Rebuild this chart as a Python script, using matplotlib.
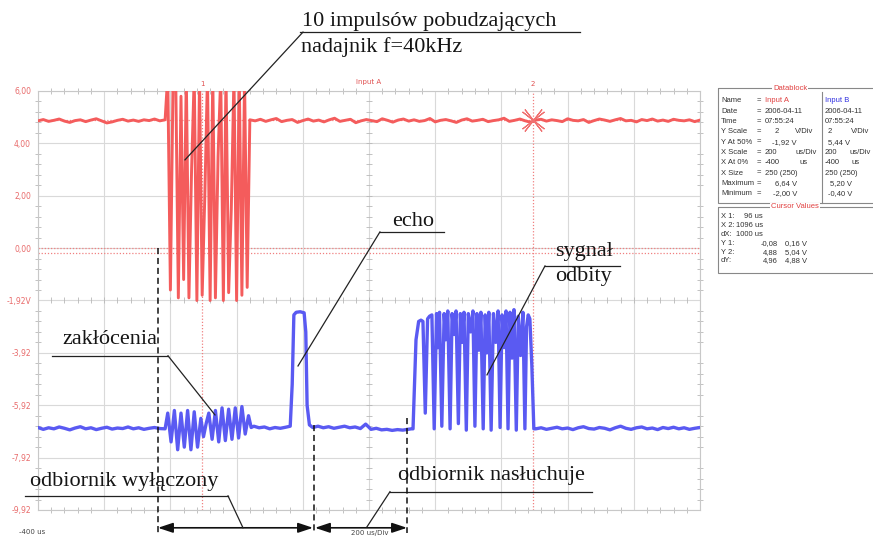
import numpy as np
import matplotlib.pyplot as plt
from matplotlib.ticker import MultipleLocator
from matplotlib.patches import Rectangle

dt = 16  # krok probek linii bazowej [us]

# kanal A - nadajnik [V]
a_pre = [4.86, 4.91, 4.84, 4.88, 4.93, 4.85, 4.80, 4.87, 4.90, 4.83, 4.89, 4.94,
         4.86, 4.78, 4.82, 4.88, 4.92, 4.85, 4.89, 4.84, 4.90, 4.87, 4.93, 4.86]
a_burst_t = list(range(-16, 241, 8))
a_burst = [4.9, 6.6, -1.6, 6.4, 6.6, -1.9, 5.8, -1.2, 6.6, -1.9, 3.0, 6.6, -2.0,
           6.5, -1.8, 2.0, 6.6, -2.0, 6.6, -1.9, 3.5, 6.6, -2.0, 6.6, -1.7, 1.5,
           6.6, -2.0, 6.6, -1.8, 6.5, -1.5, 4.9]
a_post = [4.86, 4.92, 4.84, 4.90, 4.95, 4.83, 4.88, 4.91, 4.80, 4.87,
          4.93, 4.85, 4.89, 4.82, 4.90, 4.96, 4.84, 4.88, 4.92, 4.79,
          4.86, 4.91, 4.87, 4.83, 4.94, 4.88, 4.81, 4.89, 4.93, 4.85,
          4.90, 4.84, 4.87, 4.95, 4.82, 4.88, 4.91, 4.86, 4.80, 4.89,
          4.94, 4.85, 4.88, 4.92, 4.83, 4.87, 4.90, 4.96, 4.84, 4.88,
          4.93, 4.86, 4.81, 4.89, 4.92, 4.85, 4.90, 4.87, 4.83, 4.94,
          4.88, 4.86, 4.91, 4.80, 4.87, 4.93, 4.89, 4.84, 4.90, 4.95,
          4.86, 4.88, 4.82, 4.91, 4.87, 4.93, 4.85, 4.89, 4.84, 4.92,
          4.88, 4.86, 4.90, 4.83, 4.89]

# kanal B - odbiornik (w skali ekranu)
b_pre = [-6.85, -6.92, -6.86, -6.90, -6.83, -6.88, -6.94, -6.87, -6.82, -6.90, -6.86, -6.93,
         -6.88, -6.84, -6.91, -6.87, -6.89, -6.83, -6.90, -6.86, -6.92, -6.88, -6.85, -6.89]
b_noise_t = [-16, -8, 2, 12, 22, 32, 42, 52, 62, 72, 82, 92, 100, 108, 116, 126, 136, 146,
             156, 166, 176, 186, 196, 206, 216, 226, 236, 244]
b_noise = [-6.9, -6.3, -7.4, -6.2, -7.7, -6.3, -7.6, -6.2, -7.7, -6.25, -7.6, -6.5, -7.2, -6.7,
           -6.3, -7.3, -6.2, -7.4, -6.1, -7.35, -6.15, -7.3, -6.1, -7.25, -6.05, -7.1, -6.4, -6.85]
b_echo_t = [252, 268, 284, 300, 316, 332, 348, 362, 368, 373, 380, 392, 404, 409, 413, 420,
            430, 446, 462, 478, 494, 510, 526, 542, 558, 574, 590, 606, 622, 638, 654, 670,
            686, 702, 718, 728]
b_echo = [-6.8, -6.86, -6.83, -6.9, -6.85, -6.88, -6.84, -6.8, -5.2, -2.55, -2.45, -2.43,
          -2.47, -3.2, -6.0, -6.75, -6.85, -6.8, -6.86, -6.82, -6.88, -6.84, -6.8, -6.86,
          -6.83, -6.89, -6.72, -6.92, -6.88, -6.94, -6.92, -6.96, -6.93, -6.95, -6.92, -6.9]
b_refl_t = [733, 742, 750, 757, 763, 770, 777, 783, 790, 797, 804, 808, 813, 820, 827, 832,
            838, 845, 851, 857, 863, 870, 876, 881, 887, 894, 900, 907, 914, 920, 926, 932,
            938, 945, 951, 956, 962, 969, 976, 983, 990, 996, 1002, 1008, 1014, 1020, 1026,
            1032, 1038, 1045, 1051, 1058, 1065, 1071, 1076, 1081, 1086, 1092, 1098]
b_refl = [-6.9, -3.5, -2.8, -2.75, -2.8, -6.3, -2.7, -2.6, -2.55, -6.9, -2.5, -3.8, -2.45,
          -6.8, -2.5, -3.5, -2.4, -6.9, -2.5, -3.3, -2.4, -6.7, -2.5, -3.6, -2.45, -6.95,
          -2.5, -3.2, -2.4, -6.8, -2.5, -3.9, -2.45, -6.9, -2.55, -4.0, -2.45, -6.95, -2.5,
          -3.6, -2.4, -6.85, -2.55, -3.8, -2.4, -6.9, -2.45, -4.2, -2.35, -6.95, -2.6, -4.1,
          -2.45, -6.9, -3.0, -2.55, -2.7, -4.5, -6.9]
b_post = [-6.9, -6.86, -6.92, -6.88, -6.84, -6.9, -6.87, -6.93, -6.86, -6.82, -6.89, -6.91,
          -6.85, -6.88, -6.94, -6.86, -6.8, -6.88, -6.92, -6.86, -6.83, -6.9, -6.87, -6.93,
          -6.85, -6.89, -6.84, -6.9, -6.86, -6.92, -6.88, -6.85]

kursory_t = [96, 1096]
kursory_y = [0.02, -0.19]
kursor2 = (1096, 4.88)

y_ticks = [6, 4, 2, 0, -2, -4, -6, -8, -10]
y_labels = ["6,00", "4,00", "2,00", "0,00", "-1,92V", "-3,92", "-5,92", "-7,92", "-9,92"]

# ---- wykres ----
fig = plt.figure(figsize=(8.73, 5.39), dpi=100)
ax = fig.add_axes([38 / 873, 29 / 539, 662 / 873, 419 / 539])
ax.set_xlim(-400, 1600)
ax.set_ylim(-10, 6)
ax.set_xticks(np.arange(-400, 1601, 200))
ax.set_xticklabels([])
ax.set_yticks(y_ticks)
ax.set_yticklabels(y_labels, color='#e86a6a', fontsize=5.5)
ax.tick_params(which='major', length=0, pad=5)
ax.grid(True, color='#d9d9d9', lw=0.8)
ax.xaxis.set_minor_locator(MultipleLocator(40))
ax.yaxis.set_minor_locator(MultipleLocator(0.4))
ax.tick_params(which='minor', direction='inout', length=4, width=0.6, color='#b8b8b8',
               top=True, right=True)
for s in ax.spines.values():
    s.set_color('#c8c8c8')
    s.set_linewidth(0.8)
mx = np.arange(-400, 1601, 40)
ax.plot(mx, np.full(len(mx), -2.0), ls='none', marker='|', ms=4, mew=0.6, color='#b8b8b8')
my = np.arange(-10, 6.01, 0.4)
ax.plot(np.full(len(my), 600), my, ls='none', marker='_', ms=4, mew=0.6, color='#b8b8b8')

# kursory
for t in kursory_t:
    ax.axvline(t, color='#f08080', ls=(0, (1, 1.5)), lw=0.9)
for y in kursory_y:
    ax.axhline(y, color='#f08080', ls=(0, (1, 1.5)), lw=0.9)
ax.axhline(kursor2[1], color='#f08080', ls=(0, (1, 1.5)), lw=0.9)
for i, t in enumerate(kursory_t):
    ax.text(t, 6.15, str(i + 1), color='#e05050', fontsize=5, ha='center', va='bottom')

# przebiegi
a_t = np.concatenate([-400 + dt * np.arange(len(a_pre)), a_burst_t, 256 + dt * np.arange(len(a_post))])
a_v = np.concatenate([a_pre, a_burst, a_post])
ax.plot(a_t, a_v, color='#f45c5c', lw=2.1, zorder=3)

b_t = np.concatenate([-400 + dt * np.arange(len(b_pre)), b_noise_t, b_echo_t, b_refl_t,
                      1104 + dt * np.arange(len(b_post))])
b_v = np.concatenate([b_pre, b_noise, b_echo, b_refl, b_post])
ax.plot(b_t, b_v, color='#5a5af2', lw=2.4, zorder=3)

ax.plot(*kursor2, marker=(4, 2, 38), ms=20, mew=0.8, color='#f07070', zorder=4)
ax.plot(*kursor2, marker=(4, 2, 52), ms=20, mew=0.8, color='#f07070', zorder=4)

ax.text(0.5, 1.021, 'Input A', transform=ax.transAxes, color='#e05050', fontsize=5,
        ha='center', va='center')
ax.text(-0.009, -0.053, '-400 us', transform=ax.transAxes, color='#444', fontsize=5,
        ha='center', va='center')
ax.text(603, -10.87, '200 us/Div', color='#444', fontsize=5, ha='center', va='center')

# ---- opisy ----
serif = dict(family='Liberation Serif', fontsize=16, color='#151515')
kl = dict(color='#222222', lw=0.9, clip_on=False, zorder=5)

ax.plot([391.5, 1237], [8.25, 8.25], **kl)
ax.plot([400.6, 44], [8.25, 3.37], **kl)
ax.text(397, 8.3, '10 impulsów pobudzających', va='bottom', **serif)
ax.text(394, 7.68, 'nadajnik f=40kHz', va='center', **serif)

ax.plot([633, 826.6], [0.618, 0.618], **kl)
ax.plot([633, 385.5], [0.618, -4.5], **kl)
ax.text(669.5, 1.0, 'echo', va='center', **serif)

ax.plot([1131.7, 1358.3], [-0.68, -0.68], **kl)
ax.plot([1131.7, 956.5], [-0.68, -4.84], **kl)
ax.text(1162, -0.145, 'sygnał', va='center', **serif)
ax.text(1162, -1.1, 'odbity', va='center', **serif)

ax.plot([-357.7, -7.3], [-4.11, -4.11], **kl)
ax.plot([-7.3, 134.7], [-4.11, -6.37], **kl)
ax.text(-327.5, -3.5, 'zakłócenia', va='center', **serif)

ax.plot([-439, 174], [-9.46, -9.46], **kl)
ax.plot([174, 219.3], [-9.46, -10.68], **kl)
ax.text(-424, -8.92, 'odbiornik wyłączony', va='center', **serif)

ax.plot([663.4, 1273.7], [-9.3, -9.3], **kl)
ax.plot([663.4, 594], [-9.3, -10.64], **kl)
ax.text(687.6, -8.69, 'odbiornik nasłuchuje', va='center', **serif)

dash = dict(color='#111111', lw=1.1, ls=(0, (4, 2.5)), clip_on=False, zorder=5)
ax.plot([-37.5, -37.5], [0.01, -10.87], **dash)
ax.plot([433.8, 433.8], [-6.75, -10.87], **dash)
ax.plot([714.8, 714.8], [-6.48, -10.87], **dash)

arr = dict(arrowstyle='<|-|>,head_length=0.9,head_width=0.3', color='#111111', lw=1.2,
           shrinkA=0, shrinkB=0)
ax.annotate('', xy=(-37.5, -10.68), xytext=(430.8, -10.68), arrowprops=arr, annotation_clip=False)
ax.annotate('', xy=(436.8, -10.68), xytext=(714.8, -10.68), arrowprops=arr, annotation_clip=False)

# ---- Datablock ----
ov = fig.add_axes([0, 0, 1, 1], facecolor='none')
ov.set_xlim(0, 873)
ov.set_ylim(539, 0)
ov.axis('off')
sm = dict(family='Liberation Sans', fontsize=5.5, color='#333333', va='center')
red_sm = {**sm, 'color': '#e04040'}

ov.add_patch(Rectangle((718, 88), 170, 115, fill=False, ec='#888888', lw=0.8))
ov.plot([822, 822], [92, 203], color='#888888', lw=0.8)
ov.text(790, 88, 'Datablock', ha='center', bbox=dict(fc='white', ec='none', pad=0.5), **red_sm)

wiersze = ['Name', 'Date', 'Time', 'Y Scale', 'Y At 50%', 'X Scale', 'X At 0%', 'X Size',
           'Maximum', 'Minimum']
ya = [101 + 10.3 * i for i in range(len(wiersze))]
for y, w in zip(ya, wiersze):
    ov.text(721, y, w, **sm)
    ov.text(757, y, '=', **sm)

ov.text(765, ya[0], 'Input A', **red_sm)
ov.text(825, ya[0], 'Input B', **{**sm, 'color': '#3030e0'})
ov.text(765, ya[1], '2006-04-11', **sm)
ov.text(825, ya[1], '2006-04-11', **sm)
ov.text(765, ya[2], '07:55:24', **sm)
ov.text(825, ya[2], '07:55:24', **sm)
ov.text(777, ya[3], '2', ha='center', **sm)
ov.text(795, ya[3], 'V/Div', **sm)
ov.text(830, ya[3], '2', ha='center', **sm)
ov.text(851, ya[3], 'V/Div', **sm)
ov.text(797, ya[4], '-1,92 V', ha='right', **sm)
ov.text(850, ya[4], '5,44 V', ha='right', **sm)
ov.text(765, ya[5], '200', **sm)
ov.text(796, ya[5], 'us/Div', **sm)
ov.text(825, ya[5], '200', **sm)
ov.text(849, ya[5], 'us/Div', **sm)
ov.text(765, ya[6], '-400', **sm)
ov.text(800, ya[6], 'us', **sm)
ov.text(825, ya[6], '-400', **sm)
ov.text(852, ya[6], 'us', **sm)
ov.text(765, ya[7], '250 (250)', **sm)
ov.text(825, ya[7], '250 (250)', **sm)
ov.text(797, ya[8], '6,64 V', ha='right', **sm)
ov.text(852, ya[8], '5,20 V', ha='right', **sm)
ov.text(797, ya[9], '-2,00 V', ha='right', **sm)
ov.text(852, ya[9], '-0,40 V', ha='right', **sm)

# ---- Cursor Values ----
ov.add_patch(Rectangle((718, 207), 170, 66, fill=False, ec='#888888', lw=0.8))
ov.text(795, 207, 'Cursor Values', ha='center', bbox=dict(fc='white', ec='none', pad=0.5), **red_sm)
kw = ['X 1:', 'X 2:', 'dX:', 'Y 1:', 'Y 2:', 'dY:']
yc = [217 + 8.8 * i for i in range(len(kw))]
for y, w in zip(yc, kw):
    ov.text(721, y, w, **sm)
ov.text(763, yc[0], '96 us', ha='right', **sm)
ov.text(763, yc[1], '1096 us', ha='right', **sm)
ov.text(763, yc[2], '1000 us', ha='right', **sm)
for y, v1, v2 in zip(yc[3:], ['-0,08', '4,88', '4,96'], ['0,16 V', '5,04 V', '4,88 V']):
    ov.text(778, y, v1, ha='right', **sm)
    ov.text(807, y, v2, ha='right', **sm)

fig.savefig('out.png', dpi=100)
